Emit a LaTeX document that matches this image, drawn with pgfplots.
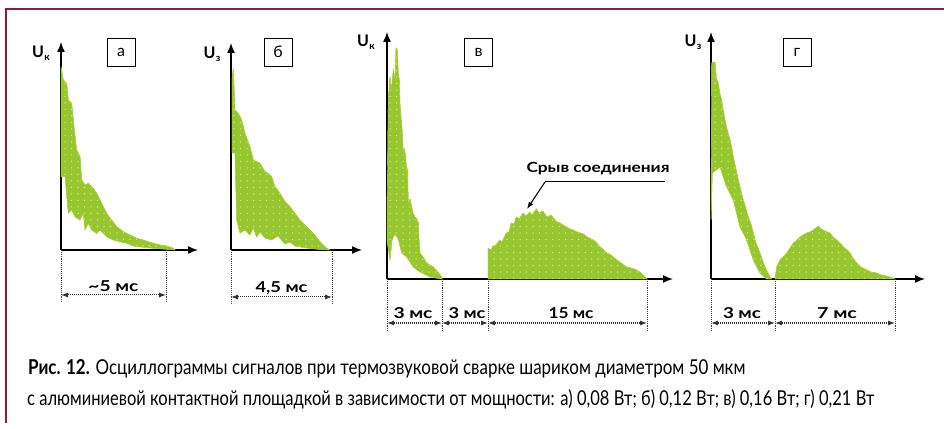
\documentclass[border=0pt]{standalone}
\usepackage{pgfplots}
\pgfplotsset{compat=1.18}
\usepackage{graphicx}
\usepackage{fontspec}
\setmainfont{Lato}
\usetikzlibrary{arrows.meta,patterns.meta}
\definecolor{oscgreen}{RGB}{152,198,48}
\definecolor{dotgreen}{RGB}{214,236,120}
\definecolor{frame}{RGB}{140,32,48}
\tikzdeclarepattern{
  name=sparsedots, type=uncolored,
  bounding box={(-1pt,-1pt) and (1pt,1pt)},
  tile size={(6.5pt,6.5pt)},
  code={\fill (0,0) circle (0.75pt);}
}
\newcommand{\blab}[3][15]{\resizebox{#2}{\height}{\fontsize{#1}{#1}\selectfont\bfseries #3}}
\newcommand{\ulab}[1]{{\fontsize{16}{16}\selectfont\bfseries U\kern0.3pt\raisebox{-3pt}{\fontsize{10}{10}\selectfont #1}}}
\pgfplotsset{
  osc/.style={scale only axis, axis lines=left, ticks=none, xmin=0, ymin=0, clip=false, anchor=south west,
    axis line style={black, line width=1.4pt, -{Latex[length=10pt,width=8pt]}}},
  sig/.style={draw=oscgreen!85!yellow, line width=0.4pt, fill=oscgreen, postaction={pattern=sparsedots, pattern color=dotgreen}},
}
\tikzset{
  dim/.style={densely dotted, line width=0.9pt, black!75},
  dimarr/.style={black!80, line width=1pt, densely dotted, {Latex[length=7pt,width=5pt,sep=0pt]}-{Latex[length=7pt,width=5pt]}},
  lbox/.style={draw=black, line width=0.7pt, fill=white, minimum width=28pt, minimum height=28pt, inner sep=0pt, font=\fontsize{16}{16}\selectfont},
}
\begin{document}
\begin{tikzpicture}
\path[use as bounding box] (0pt,0pt) rectangle (944pt,428pt);
% frame
\draw[frame, line width=2pt] (6pt,5pt) -- (6pt,419pt) -- (944pt,419pt);

% ---------- panel a ----------
\begin{axis}[osc, at={(61pt,178pt)}, width=137pt, height=208pt, xmax=137, ymax=208]
\addplot[sig] coordinates {
(0,183.3) (2.3,170) (5.7,166.7) (7.3,150) (10.7,146.7) (13,123.3) (15.7,100) (19,93.3)
(20.7,70) (24,65) (27.3,66.7) (32.3,61.7) (35.7,56.7) (39,50) (42.3,43.3) (45.7,36.7)
(50.7,30) (55.7,23.3) (62.3,18.3) (69,15) (75.7,11.7) (82.3,10) (92.3,6.7) (99,5)
(105.7,4) (112.3,1.7) (114,0)
(105.7,0.7) (92.3,1.7) (82.3,2.7) (72.3,4) (65.7,6.7) (59,8.3) (52.3,10) (45.7,13.3)
(39,20) (35.7,16.7) (30.7,20) (27.3,26.7) (24,20) (22.3,36.7) (19,30) (14,33.3)
(10.7,40) (7.3,36.7) (4,73.3) (0,73.3)
} -- cycle;
\draw[dim] (axis cs:0,0) -- (axis cs:0,-53);
\draw[dim] (axis cs:105,0) -- (axis cs:105,-53);
\draw[dimarr] (axis cs:0,-45) -- (axis cs:105,-45);
\node[anchor=base, inner sep=0pt] at (axis cs:52.5,-42) {\blab{50pt}{\textasciitilde5 мс}};
\end{axis}

% ---------- panel b ----------
\begin{axis}[osc, at={(231pt,178pt)}, width=131pt, height=207pt, xmax=131, ymax=207]
\addplot[sig] coordinates {
(1,170) (2.3,181.7) (4,140) (7.3,136.7) (10.7,130) (14,116.7) (19,103.3) (22.3,90)
(25.7,88.3) (29,86.7) (34,78.3) (37.3,76.7) (40.7,73.3) (44,63.3) (49,56.7) (54,48.3)
(59,43.3) (64,36.7) (69,30) (75.7,23.3) (82.3,16.7) (89,8.3) (95.7,1.7) (99,0)
(89,0.5) (75.7,2) (64,4) (59,8) (54,6) (47,14) (40.7,10) (34,12) (29,18) (25.7,13)
(22.3,22) (19,15) (14,20) (9,17) (5.7,30) (4,97) (1,97)
} -- cycle;
\draw[dim] (axis cs:0,0) -- (axis cs:0,-55);
\draw[dim] (axis cs:101,0) -- (axis cs:101,-55);
\draw[dimarr] (axis cs:0,-47) -- (axis cs:101,-47);
\node[anchor=base, inner sep=0pt] at (axis cs:50.5,-43) {\blab{52pt}{4,5 мс}};
\end{axis}

% ---------- panel c ----------
\begin{axis}[osc, at={(387pt,149pt)}, width=286pt, height=247pt, xmax=286, ymax=247]
\addplot[sig] coordinates {
(0,66) (1.3,179) (3,202) (4.5,190) (6.3,209) (8,200) (9,231) (10.3,229) (11.3,205)
(12.3,199) (13,175) (14,162) (15,150) (16.3,127) (17.5,130) (18.7,122) (19.7,106)
(20.5,110) (21.3,76) (23,80) (24.7,72) (26,66) (28,62) (30,60) (31.3,56) (32,40)
(33,26) (36,22) (39.7,16) (43,14) (46.3,12) (50,8) (54.7,2) (55,0)
(43,2) (33,7) (26.3,12) (19.7,22) (14.7,26) (11.3,40) (8,45) (5,39) (3,19) (0,39)
} -- cycle;
\addplot[sig] coordinates {
(101,0) (101,31) (104,29) (106,33) (109,34) (112.7,39) (115,37) (119.3,46) (122,47)
(124.3,56) (127,55) (129.3,62) (132,60) (136,66) (139,63) (142.7,67) (145,64)
(149.3,70) (152,66) (156,68) (159,63) (161,62) (164,64) (166.3,61) (170,57) (173,56)
(176,54) (179.7,52) (183,50) (186.3,49) (190,47) (196.3,45) (200,42) (206.3,39)
(209,37) (213,32) (216,30) (219.7,26) (224,24) (229.7,19) (234,16) (239.7,12)
(244,11) (249.7,9) (254,6) (258,2) (260,0)
} \closedcycle;
\draw[dim] (axis cs:0,0) -- (axis cs:0,-53);
\draw[dim] (axis cs:55,0) -- (axis cs:55,-53);
\draw[dim] (axis cs:101,0) -- (axis cs:101,-53);
\draw[dim] (axis cs:260,0) -- (axis cs:260,-53);
\draw[dimarr] (axis cs:0,-44) -- (axis cs:55,-44);
\draw[dimarr] (axis cs:55,-44) -- (axis cs:101,-44);
\draw[dimarr] (axis cs:101,-44) -- (axis cs:260,-44);
\node[anchor=base, inner sep=0pt] at (axis cs:26,-39) {\blab{39pt}{3 мс}};
\node[anchor=base, inner sep=0pt] at (axis cs:80,-39) {\blab{37pt}{3 мс}};
\node[anchor=base, inner sep=0pt] at (axis cs:184,-39) {\blab{45pt}{15 мс}};
% annotation
\node[anchor=base, inner sep=0pt] at (axis cs:211,106) {\blab[14]{143pt}{Срыв соединения}};
\draw[black, line width=1pt] (axis cs:278,97) -- (axis cs:158,97);
\draw[black, line width=1pt, -{Latex[length=7pt,width=5pt]}] (axis cs:158,97) -- (axis cs:140,70);
\end{axis}

% ---------- panel d ----------
\begin{axis}[osc, at={(711pt,149pt)}, width=214pt, height=247pt, xmax=214, ymax=247]
\addplot[sig] coordinates {
(0,72) (0.7,216) (4,217) (5.5,200) (7.3,196) (9,185) (10.7,179) (12,170) (14,159)
(16,150) (19,139) (21,130) (22.3,122) (25,110) (27.3,99) (30,88) (32.3,79) (35,70)
(37.3,62) (40,55) (42.3,46) (45,36) (49,26) (51,20) (54,12) (57,6) (59,2) (60.7,0)
(55.7,0) (49,6) (42.3,19) (35.7,39) (29,52) (22.3,79) (15.7,92) (9,112) (1.3,106) (0,59)
} -- cycle;
\addplot[sig] coordinates {
(64,0) (65.7,12) (69,19) (72,22) (75.7,26) (79,31) (82.3,36) (86,39) (89,42) (92,44)
(95.7,46) (99,47) (102.3,49) (105,51) (107.3,53) (110,50) (112.3,49) (116,47) (119,46)
(122,42) (125.7,39) (129,36) (132.3,32) (136,29) (139,26) (142,21) (145.7,16) (150,12)
(155.7,9) (160,7) (165.7,6) (170,4) (175.7,3) (180,1.5) (184,0)
} \closedcycle;
\draw[dim] (axis cs:0,0) -- (axis cs:0,-53);
\draw[dim] (axis cs:64,0) -- (axis cs:64,-53);
\draw[dim] (axis cs:184,0) -- (axis cs:184,-53);
\draw[dimarr] (axis cs:0,-44) -- (axis cs:64,-44);
\draw[dimarr] (axis cs:64,-44) -- (axis cs:184,-44);
\node[anchor=base, inner sep=0pt] at (axis cs:31,-39) {\blab{38pt}{3 мс}};
\node[anchor=base, inner sep=0pt] at (axis cs:126,-39) {\blab{40pt}{7 мс}};
\end{axis}

% letter boxes
\node[lbox] at (121pt,376pt) {а};
\node[lbox] at (278pt,376pt) {б};
\node[lbox] at (478.5pt,376pt) {в};
\node[lbox] at (797pt,376pt) {г};
% axis labels
\node at (41pt,375pt) {\ulab{к}};
\node at (212pt,374pt) {\ulab{з}};
\node at (366pt,386pt) {\ulab{к}};
\node at (693pt,386pt) {\ulab{з}};
% caption
\node[anchor=base west, inner sep=0pt] at (28pt,53pt) {\resizebox{717pt}{\height}{\fontsize{20.5}{20.5}\selectfont\textbf{Рис. 12.} Осциллограммы сигналов при термозвуковой сварке шариком диаметром 50 мкм}};
\node[anchor=base west, inner sep=0pt] at (27pt,23pt) {\resizebox{847pt}{\height}{\fontsize{20.5}{20.5}\selectfont с алюминиевой контактной площадкой в зависимости от мощности: а) 0,08 Вт; б) 0,12 Вт; в) 0,16 Вт; г) 0,21 Вт}};
\end{tikzpicture}
\end{document}
